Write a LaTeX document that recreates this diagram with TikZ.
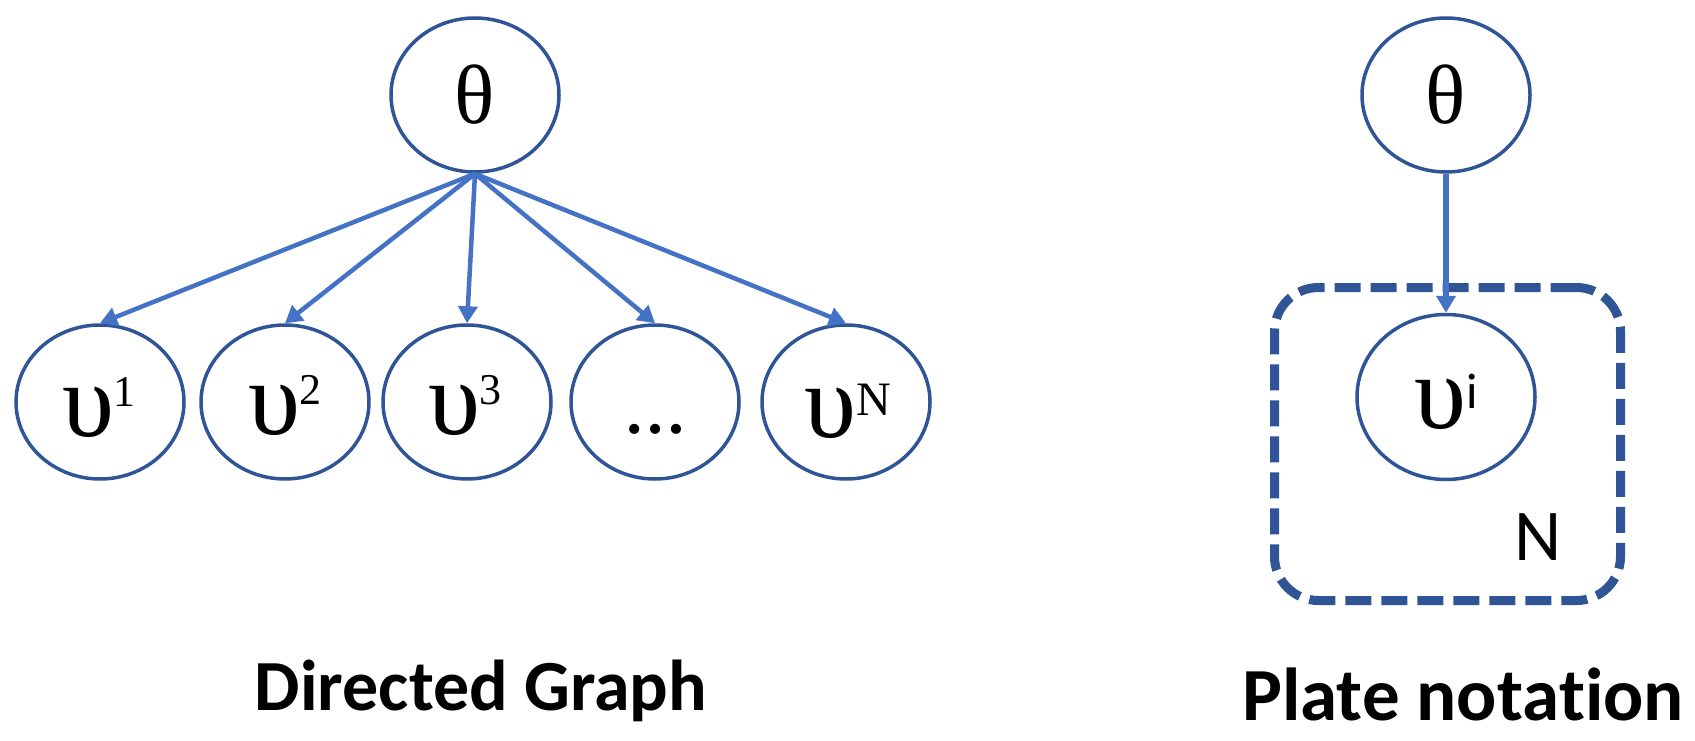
\documentclass[tikz,border=0pt]{standalone}
\usepackage{fontspec}
\setmainfont{Liberation Serif}
\newfontfamily\calfont{Carlito}[Ligatures=NoCommon]
\usetikzlibrary{shapes.geometric,arrows.meta}
\definecolor{edgeblue}{HTML}{2F5597}
\definecolor{arrowblue}{HTML}{4472C4}
\newcommand\upsl[3]{{\fontsize{105}{105}\selectfont υ}\raisebox{#2pt}{\fontsize{#3}{#3}\selectfont #1}}
\begin{document}
\begin{tikzpicture}[x=1pt,y=-1pt,
  var/.style={ellipse, draw=edgeblue, line width=3.5pt, minimum width=168pt, minimum height=154pt, inner sep=0pt},
  arr/.style={draw=arrowblue, line width=4.5pt, -{Triangle[length=17pt,width=19pt]}},
  lab/.style={anchor=base, inner sep=0pt},
  plate/.style={draw=edgeblue, line width=9pt, rounded corners=44pt, dash pattern=on 26pt off 10pt, minimum width=346pt, minimum height=313pt, inner sep=0pt}]
\useasboundingbox (0,0) rectangle (1695,741);
% directed graph
\node[var] (t1) at (475,95) {\fontsize{84}{84}\selectfont θ};
\node[var] (u1) at (100,402) {};
\node[var] (u2) at (285,402) {};
\node[var] (u3) at (467,402) {};
\node[var] (u4) at (655,402) {};
\node[var] (u5) at (846,402) {};
\node[lab] (l1) at (99,436) {\upsl{1}{30}{44}};
\node[lab] (l2) at (285,434) {\upsl{2}{30}{44}};
\node[lab] (l3) at (465,434) {\upsl{3}{30}{44}};
\node[lab] (l4) at (655,433) {\fontsize{62}{62}\selectfont\bfseries …};
\node[lab] (l5) at (848,437) {\upsl{N}{22}{48}};
\foreach \k in {1,...,5} \draw[arr] (t1.south) -- (u\k.north);
% plate notation
\node[var] (t2) at (1446,95) {\fontsize{84}{84}\selectfont θ};
\node[plate] (pl) at (1447.5,444) {};
\node[var, minimum width=178pt, minimum height=165pt] (ui) at (1446,397) {};
\node[lab] (li) at (1446,428) {{\fontsize{105}{105}\selectfont υ}\raisebox{20pt}{\calfont\fontsize{50}{50}\selectfont i}};
\node[lab] (nl) at (1538,560) {\calfont\fontsize{73}{73}\selectfont N};
\draw[arr, line width=5.5pt] (t2.south) -- (ui.north);
% titles
\node[lab] (g1) at (481,710) {\calfont\bfseries\fontsize{72}{72}\selectfont Directed Graph};
\node[lab] (g2) at (1463,720) {\calfont\bfseries\fontsize{75}{75}\selectfont Plate notation};
\end{tikzpicture}
\end{document}
